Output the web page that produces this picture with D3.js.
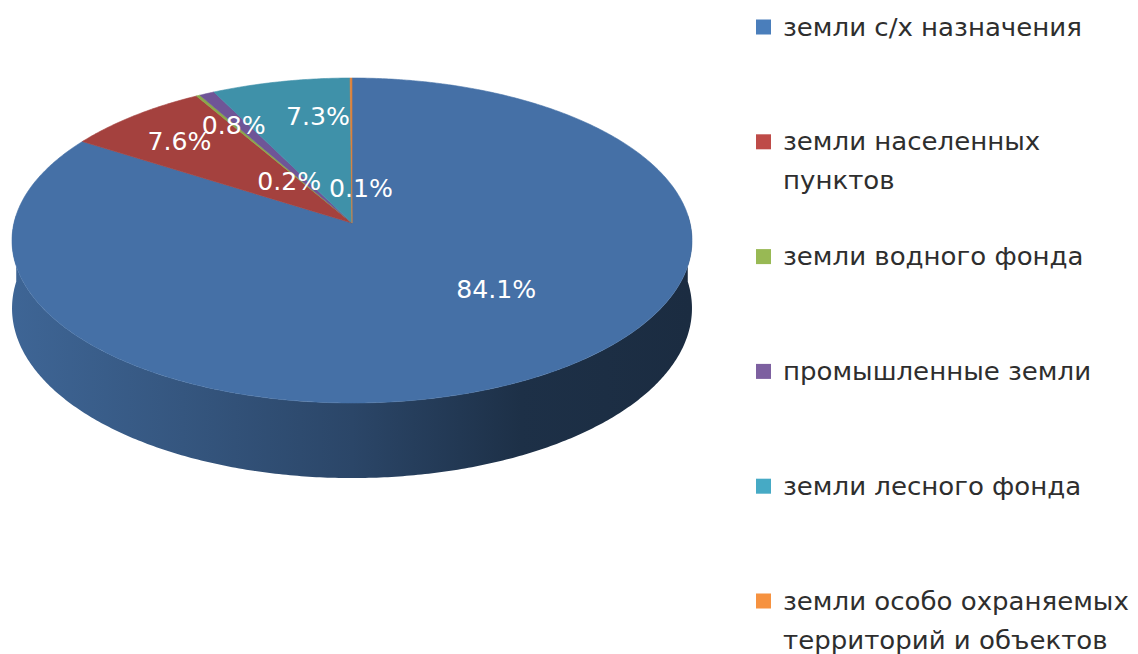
<!DOCTYPE html>
<html>
<head>
    <meta charset="utf-8">
    <title>Структура земель</title>
    <script src="https://d3js.org/d3.v7.min.js"></script>
    <style>
        body { margin: 0; background: #fff; }
        .legend-label {
            font-family: "DejaVu Sans", Verdana, sans-serif;
            font-size: 24px;
            fill: #2e2e2e;
        }
        .slice-label {
            font-family: "DejaVu Sans", Verdana, sans-serif;
            font-size: 24px;
            fill: #fff;
        }
    </style>
</head>
<body>
    <div id="chart"></div>
    <script>
        // Data
        const categories = [
            'земли с/х назначения',
            'земли населенных пунктов',
            'земли водного фонда',
            'промышленные земли',
            'земли лесного фонда',
            'земли особо охраняемых территорий и объектов'
        ];
        const shares = [84.1, 7.6, 0.2, 0.8, 7.3, 0.1];
        // legend lines (long names wrap onto two lines)
        const legendLines = [
            ['земли с/х назначения'],
            ['земли населенных', 'пунктов'],
            ['земли водного фонда'],
            ['промышленные земли'],
            ['земли лесного фонда'],
            ['земли особо охраняемых', 'территорий и объектов']
        ];

        // Styles / layout
        const legendColors = ['#4a7ebb', '#be4b48', '#98b954', '#7d60a0', '#46aac5', '#f69240'];
        const topColors = ['#4570a6', '#a4413e', '#8aa84a', '#6f5597', '#3f91a9', '#de823a'];
        // label placement: angle nudge from slice middle (deg) and radius fraction
        const labelNudge = [-17, -1.4, -5.5, -1.9, 4.8, 7.2];
        const labelRadius = [0.57, 0.76, 0.33, 0.75, 0.72, 0.22];

        const width = 1138;
        const height = 654;

        // 3D pie projection parameters
        const cx = 352, cy = 223;   // apex of the slices
        const R = 338;              // horizontal radius
        const Rb = 160.6;           // vertical (tilted) radius
        const persp = 0.1077;       // perspective strength
        const depth = 67;           // thickness

        const svg = d3.select('#chart')
            .append('svg')
            .attr('width', width)
            .attr('height', height);

        const defs = svg.append('defs');

        const pie = d3.pie()
            .sort(null)
            .value(d => d)
            .startAngle(0)
            .endAngle(2 * Math.PI);

        const arcs = pie(shares);

        function proj(theta, f = 1, down = 0) {
            const u = Math.sin(theta) * f;
            const v = Math.cos(theta) * f;
            const s = 1 / (1 + persp * v);
            return [cx + R * u * s, cy - Rb * v * s + down * s];
        }

        function rimPoints(a0, a1, down) {
            const n = Math.max(2, Math.ceil((a1 - a0) / 0.01));
            return d3.range(n + 1).map(i => proj(a0 + (a1 - a0) * i / n, 1, down));
        }

        const line = d3.line();

        // Side walls (front half only)
        const front0 = Math.PI / 2 - 0.05, front1 = 3 * Math.PI / 2 + 0.05;
        const walls = svg.append('g');
        arcs.forEach((a, i) => {
            const b0 = Math.max(a.startAngle, front0);
            const b1 = Math.min(a.endAngle, front1);
            if (b1 <= b0) return;
            const base = d3.color(topColors[i]);
            const gid = 'wall' + i;
            const grad = defs.append('linearGradient')
                .attr('id', gid)
                .attr('gradientUnits', 'userSpaceOnUse')
                .attr('x1', cx - R).attr('x2', cx + R)
                .attr('y1', 0).attr('y2', 0);
            [[0, 0.3], [0.25, 0.75], [0.5, 1.3], [0.75, 2.4], [1, 2.65]].forEach(([o, k]) => {
                grad.append('stop').attr('offset', o).attr('stop-color', base.darker(k).formatHex());
            });
            const pts = rimPoints(b0, b1, 0).concat(rimPoints(b0, b1, depth).reverse());
            walls.append('path')
                .attr('d', line(pts) + 'Z')
                .attr('fill', `url(#${gid})`);
        });

        // Top faces
        svg.append('g')
            .selectAll('path')
            .data(arcs)
            .join('path')
            .attr('d', a => line([[cx, cy]].concat(rimPoints(a.startAngle, a.endAngle, 0))) + 'Z')
            .attr('fill', (a, i) => topColors[i])
            .attr('stroke', (a, i) => topColors[i])
            .attr('stroke-width', 0.6)
            .attr('stroke-linejoin', 'round');

        // Slice labels
        svg.append('g')
            .selectAll('text')
            .data(arcs)
            .join('text')
            .attr('class', 'slice-label')
            .attr('text-anchor', 'middle')
            .attr('dy', '0.36em')
            .attr('transform', (a, i) => {
                const mid = (a.startAngle + a.endAngle) / 2 + labelNudge[i] * Math.PI / 180;
                const p = proj(mid, labelRadius[i]);
                return `translate(${p[0]},${p[1]}) scale(1.05,1)`;
            })
            .text(d => d3.format('.1f')(d.data) + '%');

        // Legend
        const legendY = d3.scalePoint()
            .domain(categories)
            .range([27, 601]);

        const legend = svg.append('g')
            .selectAll('g')
            .data(categories)
            .join('g')
            .attr('transform', d => `translate(756,${legendY(d)})`);

        legend.append('rect')
            .attr('x', 0)
            .attr('y', -7.5)
            .attr('width', 15)
            .attr('height', 15)
            .attr('fill', (d, i) => legendColors[i]);

        legend.append('text')
            .attr('class', 'legend-label')
            .attr('transform', 'translate(27,0) scale(1.085,1)')
            .selectAll('tspan')
            .data((d, i) => legendLines[i])
            .join('tspan')
            .attr('x', 0)
            .attr('y', (d, j) => j * 39)
            .attr('dy', '0.36em')
            .text(d => d);
    </script>
</body>
</html>
